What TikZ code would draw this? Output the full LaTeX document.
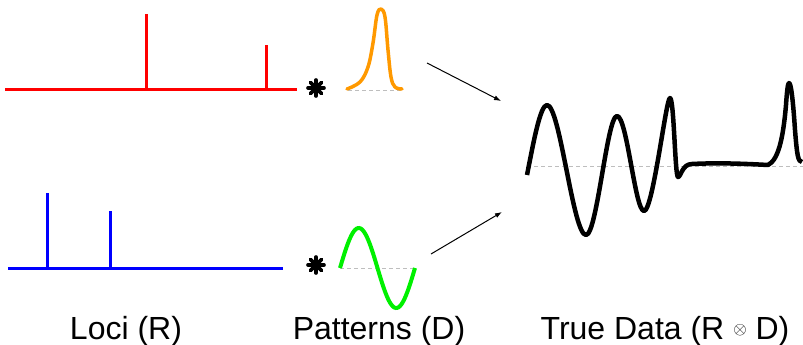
\documentclass[tikz,border=0pt]{standalone}
\usepackage{fontspec}
\setmainfont{Liberation Sans}
\usetikzlibrary{arrows.meta}
\definecolor{myorange}{RGB}{255,153,0}
\definecolor{mygreen}{RGB}{0,240,0}
\definecolor{dashgray}{RGB}{190,190,190}
\tikzset{
  baseline dash/.style={draw=dashgray, line width=1pt, dash pattern=on 4pt off 3pt},
  locusline/.style={line width=3pt},
  label/.style={anchor=base, font=\fontsize{32}{36}\selectfont, inner sep=0pt},
  convarrow/.style={draw=black, line width=1pt, -{Latex[length=7pt,width=5pt]}},
  astspoke/.style={line width=3.6pt, line cap=round},
}
\begin{document}
\begin{tikzpicture}[x=1pt,y=-1pt]
\useasboundingbox (0,0) rectangle (803,345);
% red loci
\draw[locusline, red] (5,89) -- (297,89);
\draw[locusline, red] (146,89) -- (146,14);
\draw[locusline, red] (266,89) -- (266,45);
% blue loci
\draw[locusline, blue] (8,268) -- (283,268);
\draw[locusline, blue] (47,268) -- (47,193);
\draw[locusline, blue] (110,268) -- (110,211);
% asterisks
\foreach \cy in {88,265}{
  \foreach \a in {0,45,90,135}{
    \draw[astspoke] ({316+8*cos(\a)},{\cy+8*sin(\a)}) -- ({316-8*cos(\a)},{\cy-8*sin(\a)});
  }
}
% orange pattern
\draw[baseline dash] (348,90) -- (403,90);
\draw[myorange, line width=3.5pt, line cap=round, line join=round] plot[smooth, tension=0.6] coordinates {
  (347,89) (360,82) (368,67) (373,43) (377,15) (381,9) (385,17) (388,50) (391,77) (395,87) (402,89)};
% green pattern
\draw[baseline dash] (340,268) -- (415,268);
\draw[mygreen, line width=4pt] plot[domain=0:75, samples=60, smooth] ({340+\x},{268-40*sin(4.8*\x)});
% arrows
\coordinate (a1s) at (427,63);
\coordinate (a1e) at (501,101);
\coordinate (a2s) at (431,254);
\coordinate (a2e) at (502,212);
\draw[convarrow] (a1s) -- (a1e);
\draw[convarrow] (a2s) -- (a2e);
% true data
\draw[baseline dash] (527,166) -- (803,166);
\draw[black, line width=4.5pt, line join=round]
  (527,175) .. controls (533,145) and (540,105) .. (547,105)
  .. controls (560,105) and (573,235) .. (586,235)
  .. controls (597,235) and (607,116) .. (617,116)
  .. controls (627,116) and (635,211) .. (644,211)
  .. controls (653,211) and (666,98) .. (670,98)
  .. controls (674,98) and (675,177) .. (678,177)
  .. controls (681,177) and (682,164) .. (692,164)
  .. controls (720,162.5) and (750,164) .. (768,165)
  .. controls (778,160) and (783,140) .. (786,105)
  .. controls (787,90) and (788,83) .. (789,83)
  .. controls (791,83) and (793,100) .. (795,130)
  .. controls (797,155) and (798,162) .. (802,162);
% labels
\node[label] (lbl1) at (126,339) {Loci (R)};
\node[label] (lbl2) at (379,339) {Patterns (D)};
\node[label] (lbl3) at (665,339) {True Data (R \raisebox{5pt}{\fontsize{18}{18}\selectfont$\otimes$} D)};
\end{tikzpicture}
\end{document}
